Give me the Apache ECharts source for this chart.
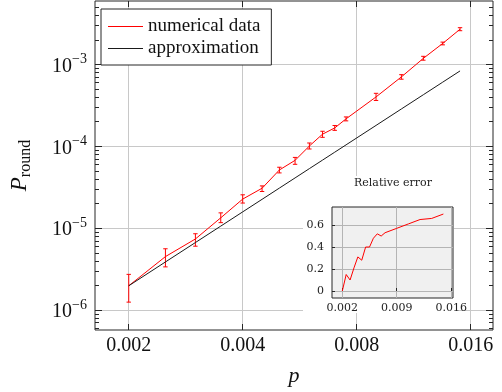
<!DOCTYPE html>
<html>
<head>
<meta charset="utf-8">
<script src="https://cdn.jsdelivr.net/npm/echarts@6/dist/echarts.min.js"></script>
<style>
html,body{margin:0;padding:0;background:#fff;}
#chart{width:502px;height:392px;}
</style>
</head>
<body>
<div id="chart"></div>
<script>
// ---------- data ----------
const pValues = [0.002, 0.0025, 0.003, 0.0035, 0.004, 0.0045, 0.005, 0.0055, 0.006, 0.0065, 0.007, 0.0075, 0.009, 0.0105, 0.012, 0.0135, 0.015];
const numericalData = [1.98e-6, 4.50e-6, 7.39e-6, 1.34e-5, 2.27e-5, 3.08e-5, 5.15e-5, 6.75e-5, 1.01e-4, 1.41e-4, 1.68e-4, 2.17e-4, 4.02e-4, 7.06e-4, 1.19e-3, 1.81e-3, 2.70e-3];
const errorLow = [1.25e-6, 3.37e-6, 6.03e-6, 1.17e-5, 2.03e-5, 2.81e-5, 4.74e-5, 6.04e-5, 9.29e-5, 1.29e-4, 1.57e-4, 2.05e-4, 3.64e-4, 6.62e-4, 1.13e-3, 1.74e-3, 2.59e-3];
const errorHigh = [2.73e-6, 5.61e-6, 8.56e-6, 1.54e-5, 2.56e-5, 3.29e-5, 5.56e-5, 7.33e-5, 1.10e-4, 1.53e-4, 1.80e-4, 2.29e-4, 4.45e-4, 7.52e-4, 1.26e-3, 1.88e-3, 2.82e-3];
const approximation = [1.98e-6, 3.87e-6, 6.68e-6, 1.061e-5, 1.584e-5, 2.255e-5, 3.094e-5, 4.118e-5, 5.346e-5, 6.797e-5, 8.489e-5, 1.044e-4, 1.804e-4, 2.865e-4, 4.277e-4, 6.089e-4, 8.353e-4];
const relativeError = [0, 0.15, 0.10, 0.21, 0.31, 0.28, 0.40, 0.40, 0.48, 0.52, 0.50, 0.53, 0.57, 0.61, 0.65, 0.66, 0.70];

const seriesNames = ['numerical data', 'approximation'];
const xTicks = [0.002, 0.004, 0.008, 0.016];
const xTickLabels = ['0.002', '0.004', '0.008', '0.016'];
const yTicks = [1e-6, 1e-5, 1e-4, 1e-3];
const yTickExponents = ['−6', '−5', '−4', '−3'];
const yMinorTicks = [6e-7, 7e-7, 8e-7, 9e-7,
  2e-6, 3e-6, 4e-6, 5e-6, 6e-6, 7e-6, 8e-6, 9e-6,
  2e-5, 3e-5, 4e-5, 5e-5, 6e-5, 7e-5, 8e-5, 9e-5,
  2e-4, 3e-4, 4e-4, 5e-4, 6e-4, 7e-4, 8e-4, 9e-4,
  2e-3, 3e-3, 4e-3, 5e-3];
const insetXTicks = [0.002, 0.009, 0.016];
const insetXTickLabels = ['0.002', '0.009', '0.016'];
const insetYTicks = [0, 0.2, 0.4, 0.6];
const insetYTickLabels = ['0', '0.2', '0.4', '0.6'];
const insetTitle = 'Relative error';

// ---------- style ----------
const SERIF = '"Liberation Serif", "DejaVu Serif", serif';
const SMALL = '"DejaVu Serif", serif';
const AX = '#262626';
const GRIDC = '#c8c8c8';
const RED = '#ff0000';
const BLACK = '#1a1a1a';
const seriesColors = [RED, BLACK];

function pickLabel(val, ticks, labels) {
  for (let i = 0; i < ticks.length; i++) {
    const t = ticks[i];
    if (Math.abs(val - t) <= Math.abs(t) * 1e-6 + 1e-12) return labels[i];
  }
  return '';
}

const chart = echarts.init(document.getElementById('chart'), null, { renderer: 'canvas' });

const option = {
  animation: false,
  backgroundColor: '#ffffff',
  title: {
    text: insetTitle, left: 393, top: 178, textAlign: 'center', padding: 0,
    textStyle: { fontFamily: SMALL, fontSize: 11, fontWeight: 'normal', color: '#222' },
    z: 7
  },
  legend: {
    data: seriesNames.map((n, i) => ({ name: n, icon: 'rect', itemStyle: { color: seriesColors[i] } })),
    orient: 'vertical', left: 101, top: 9,
    itemWidth: 35, itemHeight: 1.2, itemGap: 3,
    padding: [8, 11, 7, 7],
    borderColor: AX, borderWidth: 1, backgroundColor: '#fff',
    textStyle: { fontFamily: SERIF, fontSize: 19, color: '#111', lineHeight: 19 },
    z: 10
  },
  graphic: [{
    type: 'rect', silent: true, z: 3,
    shape: { x: 303, y: 176, width: 151, height: 137 },
    style: { fill: '#ffffff' }
  }],
  grid: [
    { left: 88, top: 1, width: 405, height: 335, show: true, borderColor: AX, borderWidth: 1, backgroundColor: 'transparent', z: 0 },
    { left: 332, top: 207, width: 121, height: 91, show: true, borderColor: AX, borderWidth: 1, backgroundColor: '#f0f0f0', z: 4 }
  ],
  xAxis: [
    {
      type: 'log', logBase: 2, gridIndex: 0, min: 0.001629, max: 0.01833, position: 'bottom',
      axisLine: { show: false },
      axisTick: { show: true, inside: true, length: 6, customValues: xTicks, lineStyle: { color: AX } },
      axisLabel: { customValues: xTicks, margin: 6, fontFamily: SERIF, fontSize: 20, color: '#111',
        formatter: v => pickLabel(v, xTicks, xTickLabels) },
      splitLine: { show: true, lineStyle: { color: GRIDC, width: 1 } },
      minorTick: { show: false }, minorSplitLine: { show: false },
      name: 'p', nameLocation: 'middle', nameGap: 35,
      nameTextStyle: { fontFamily: SERIF, fontStyle: 'italic', fontSize: 22, color: '#111' }
    },
    {
      type: 'log', logBase: 2, gridIndex: 0, min: 0.001629, max: 0.01833, position: 'top',
      axisLine: { show: false },
      axisTick: { show: true, inside: true, length: 6, customValues: xTicks, lineStyle: { color: AX } },
      axisLabel: { show: false }, splitLine: { show: false }
    },
    {
      type: 'value', gridIndex: 1, min: 0.000674, max: 0.01624, position: 'bottom', z: 5,
      axisLine: { show: false },
      axisTick: { show: true, inside: true, length: 3, customValues: insetXTicks, lineStyle: { color: AX } },
      axisLabel: { customValues: insetXTicks, margin: 5, fontFamily: SMALL, fontSize: 11, color: '#222',
        formatter: v => pickLabel(v, insetXTicks, insetXTickLabels) },
      splitLine: { show: true, lineStyle: { color: '#b4b4b4', width: 1 } }
    }
  ],
  yAxis: [
    {
      type: 'log', logBase: 10, gridIndex: 0, min: 5.707e-7, max: 5.975e-3, position: 'left',
      axisLine: { show: false },
      axisTick: { show: true, inside: true, length: 7, customValues: yTicks, lineStyle: { color: AX } },
      axisLabel: {
        customValues: yTicks, margin: 8, color: '#111',
        formatter: v => '{b|10}{s|' + pickLabel(v, yTicks, yTickExponents) + '}',
        rich: {
          b: { fontFamily: SERIF, fontSize: 20, color: '#111', lineHeight: 24, verticalAlign: 'bottom' },
          s: { fontFamily: SERIF, fontSize: 14, color: '#111', lineHeight: 14, verticalAlign: 'top' }
        }
      },
      splitLine: { show: true, lineStyle: { color: GRIDC, width: 1 } },
      minorTick: { show: false }, minorSplitLine: { show: false },
      name: '{i|P}{s|round}', nameLocation: 'middle', nameRotate: 90, nameGap: 61,
      nameTextStyle: {
        rich: {
          i: { fontFamily: SERIF, fontStyle: 'italic', fontSize: 23, color: '#111', lineHeight: 26, verticalAlign: 'top' },
          s: { fontFamily: SERIF, fontSize: 16, color: '#111', lineHeight: 26, verticalAlign: 'bottom' }
        }
      }
    },
    {
      type: 'log', logBase: 10, gridIndex: 0, min: 5.707e-7, max: 5.975e-3, position: 'left',
      axisLine: { show: false },
      axisTick: { show: true, inside: true, length: 4, customValues: yMinorTicks, lineStyle: { color: AX } },
      axisLabel: { show: false }, splitLine: { show: false }
    },
    {
      type: 'log', logBase: 10, gridIndex: 0, min: 5.707e-7, max: 5.975e-3, position: 'right',
      axisLine: { show: false },
      axisTick: { show: true, inside: true, length: 7, customValues: yTicks, lineStyle: { color: AX } },
      axisLabel: { show: false }, splitLine: { show: false }
    },
    {
      type: 'log', logBase: 10, gridIndex: 0, min: 5.707e-7, max: 5.975e-3, position: 'right',
      axisLine: { show: false },
      axisTick: { show: true, inside: true, length: 4, customValues: yMinorTicks, lineStyle: { color: AX } },
      axisLabel: { show: false }, splitLine: { show: false }
    },
    {
      type: 'value', gridIndex: 1, min: -0.0636, max: 0.764, position: 'left', z: 5,
      axisLine: { show: false },
      axisTick: { show: true, inside: true, length: 3, customValues: insetYTicks, lineStyle: { color: AX } },
      axisLabel: { customValues: insetYTicks, margin: 8, fontFamily: SMALL, fontSize: 11, color: '#222',
        formatter: v => pickLabel(v, insetYTicks, insetYTickLabels) },
      splitLine: { show: true, lineStyle: { color: '#b4b4b4', width: 1 } }
    }
  ],
  series: [
    {
      name: seriesNames[0], type: 'line', xAxisIndex: 0, yAxisIndex: 0,
      data: pValues.map((p, i) => [p, numericalData[i]]),
      symbol: 'none', showSymbol: false, lineStyle: { color: RED, width: 1 }, itemStyle: { color: RED }, z: 2
    },
    {
      name: 'error bars', type: 'custom', xAxisIndex: 0, yAxisIndex: 0,
      data: pValues.map((p, i) => [p, errorLow[i], errorHigh[i]]),
      encode: { x: 0, y: [1, 2] }, z: 2,
      renderItem: (params, api) => {
        const x = api.value(0);
        const lo = api.coord([x, api.value(1)]);
        const hi = api.coord([x, api.value(2)]);
        const c = 2.2;
        const st = { stroke: RED, lineWidth: 1 };
        return {
          type: 'group', children: [
            { type: 'line', shape: { x1: lo[0], y1: lo[1], x2: hi[0], y2: hi[1] }, style: st },
            { type: 'line', shape: { x1: lo[0] - c, y1: lo[1], x2: lo[0] + c, y2: lo[1] }, style: st },
            { type: 'line', shape: { x1: hi[0] - c, y1: hi[1], x2: hi[0] + c, y2: hi[1] }, style: st }
          ]
        };
      }
    },
    {
      name: seriesNames[1], type: 'line', xAxisIndex: 0, yAxisIndex: 0,
      data: pValues.map((p, i) => [p, approximation[i]]),
      symbol: 'none', showSymbol: false, lineStyle: { color: BLACK, width: 1 }, itemStyle: { color: BLACK }, z: 2
    },
    {
      name: 'relative error', type: 'line', xAxisIndex: 2, yAxisIndex: 4,
      data: pValues.map((p, i) => [p, relativeError[i]]),
      symbol: 'none', lineStyle: { color: RED, width: 1 }, z: 6
    }
  ]
};
chart.setOption(option);
</script>
</body>
</html>
